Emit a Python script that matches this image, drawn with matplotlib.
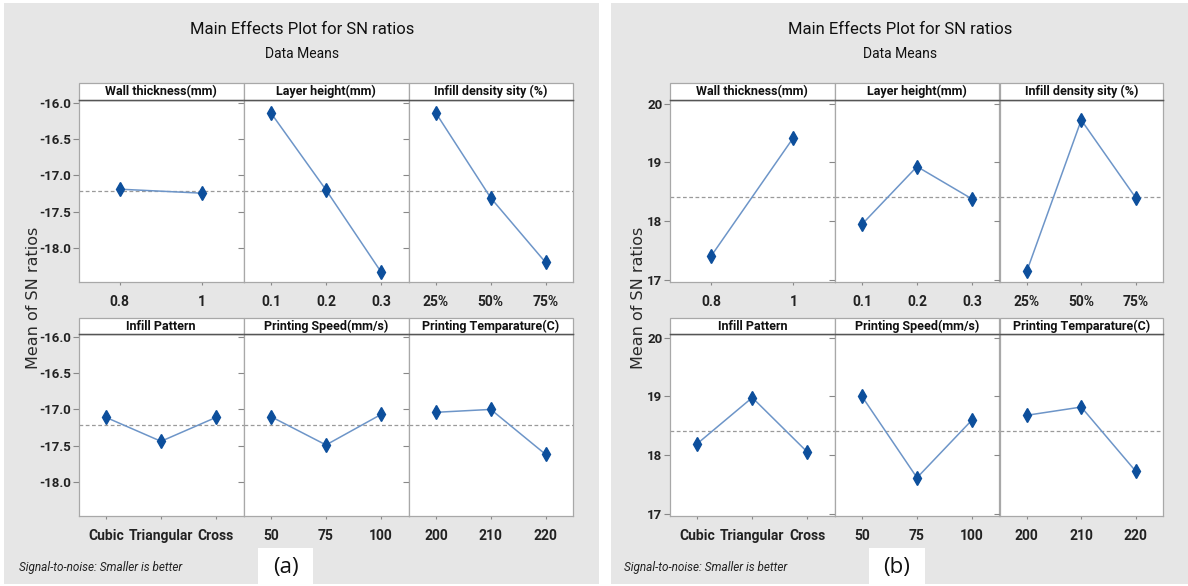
import numpy as np
import matplotlib.pyplot as plt
from matplotlib.patches import Rectangle

# 因子と水準
factors = ["Wall thickness(mm)", "Layer height(mm)", "Infill density sity (%)",
           "Infill Pattern", "Printing Speed(mm/s)", "Printing Temparature(C)"]
levels = [["0.8", "1"], ["0.1", "0.2", "0.3"], ["25%", "50%", "75%"],
          ["Cubic", "Triangular", "Cross"], ["50", "75", "100"], ["200", "210", "220"]]

# SN比の平均 (a)
sn_a = [[-17.19, -17.245], [-16.14, -17.20, -18.33], [-16.14, -17.31, -18.20],
        [-17.11, -17.44, -17.11], [-17.10, -17.49, -17.07], [-17.04, -17.00, -17.62]]
# SN比の平均 (b)
sn_b = [[17.41, 19.42], [17.95, 18.93, 18.38], [17.15, 19.72, 18.40],
        [18.20, 18.98, 18.06], [19.00, 17.62, 18.60], [18.68, 18.82, 17.73]]

yticks_a = [-16.0, -16.5, -17.0, -17.5, -18.0]
yticks_b = [17, 18, 19, 20]

W, H = 1188, 586
NARROW = ['Roboto', 'DejaVu Sans']

fig = plt.figure(figsize=(W / 100, H / 100), dpi=100)
fig.patch.set_facecolor('white')


def fx(x):
    return x / W


def fy(y):
    return 1 - y / H


def draw_chart(x0, x1, xedges, data, yticks, ylim, yfmt, title_cx, ylab_x, sig_x, tag, tag_box):
    # 背景
    fig.patches.append(Rectangle((fx(x0), fy(584)), fx(x1 - x0), (584 - 3) / H,
                                 transform=fig.transFigure, facecolor='#e6e6e6',
                                 edgecolor='none', zorder=-5))
    grand = np.mean([np.mean(d) for d in data])
    rows = [(83, 100, 282), (318, 334, 516)]
    for i in range(6):
        r, c = divmod(i, 3)
        st, pt, pb = rows[r]
        left, right = xedges[c], xedges[c + 1]
        ax = fig.add_axes([fx(left), fy(pb), fx(right - left), (pb - pt) / H])
        ax.set_facecolor('white')
        n = len(data[i])
        xs = np.arange(1, n + 1)
        ax.plot(xs, data[i], color='#6d95c8', lw=1.1, zorder=3)
        ax.plot(xs, data[i], 'd', color='#0d4f9c', ms=7, zorder=4)
        ax.axhline(grand, color='#9a9a9a', ls='--', lw=0.9, dashes=(3, 2), zorder=2)
        ax.set_xlim(0.5, n + 0.5)
        ax.set_ylim(*ylim)
        ax.set_xticks(xs)
        ax.set_xticklabels(levels[i], fontfamily=NARROW, fontweight='bold', fontsize=10)
        ax.set_yticks(yticks)
        if c == 0:
            ax.set_yticklabels([yfmt.format(v) for v in yticks], fontfamily=NARROW,
                               fontweight='bold', fontsize=9.5)
        else:
            ax.set_yticklabels([])
            ax.tick_params(axis='y', length=0)
        ax.tick_params(axis='both', colors='#888888', labelcolor='#222222',
                       width=0.8, direction='out')
        ax.tick_params(axis='x', pad=7, length=2.5)
        ax.tick_params(axis='y', pad=1.5, length=4)
        for s in ax.spines.values():
            s.set_color('#a8a8a8')
            s.set_linewidth(0.9)
        ax.spines['top'].set_color('#555555')
        # ストリップ
        sh = (pt - st) / (pb - pt)
        ax.add_patch(Rectangle((0, 1), 1, sh, transform=ax.transAxes, clip_on=False,
                               facecolor='white', edgecolor='#a8a8a8', lw=0.9, zorder=5))
        ax.plot([0, 1], [1, 1], transform=ax.transAxes, color='#555555', lw=1.0,
                clip_on=False, zorder=6)
        ax.text(0.5, 1 + sh / 2, factors[i], transform=ax.transAxes, ha='center',
                va='center', fontfamily=NARROW, fontweight='bold', fontsize=9,
                color='#111111', zorder=7)
    fig.text(fx(title_cx), fy(30), "Main Effects Plot for SN ratios", ha='center',
             va='center', fontfamily=NARROW, fontsize=12, color='#111111')
    fig.text(fx(title_cx), fy(54), "Data Means", ha='center', va='center',
             fontfamily=NARROW, fontsize=10, color='#111111')
    fig.text(fx(ylab_x), fy(298), "Mean of SN ratios", rotation=90, ha='center',
             va='center', fontfamily='DejaVu Sans', fontsize=11.5, color='#2a2a2a')
    fig.text(fx(sig_x), fy(568), "Signal-to-noise: Smaller is better", ha='left',
             va='center', fontfamily=NARROW, fontstyle='italic', fontsize=8.5,
             color='#222222')
    bx0, bx1 = tag_box
    fig.patches.append(Rectangle((fx(bx0), 0), fx(bx1 - bx0), (586 - 548) / H,
                                 transform=fig.transFigure, facecolor='white',
                                 edgecolor='none', zorder=-1))
    fig.text(fx((bx0 + bx1) / 2), fy(567), tag, ha='center', va='center',
             fontfamily='Open Sans', fontsize=16, color='#111111')


draw_chart(4, 599, [78.5, 243.5, 408.5, 573], sn_a, yticks_a, (-18.47, -15.96), "{:.1f}",
           302, 34, 19, "(a)", (258, 313))
draw_chart(611, 1188, [670, 834.5, 999.5, 1163], sn_b, yticks_b, (16.97, 20.06), "{:.0f}",
           900, 638, 624, "(b)", (869, 925))

fig.savefig("out.png", dpi=100, facecolor=fig.get_facecolor())
